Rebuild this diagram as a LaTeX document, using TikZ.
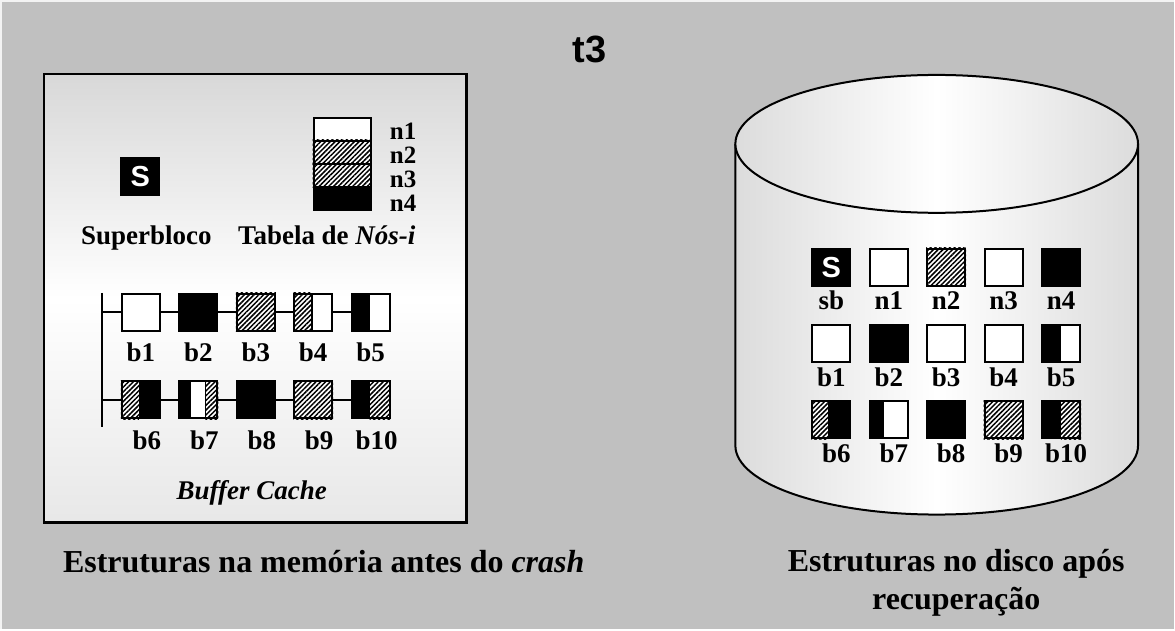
\documentclass[tikz,border=0pt]{standalone}
\usepackage{fontspec}
\setmainfont{Liberation Serif}
\newfontfamily\headfont{Liberation Sans}
\usetikzlibrary{patterns.meta,positioning}

\definecolor{bggrey}{HTML}{C0C0C0}
\definecolor{boxgrey}{HTML}{D8D8D8}
\definecolor{cylgrey}{HTML}{DCDCDC}

\newcommand{\lblfont}{\fontsize{27}{30}\selectfont\bfseries}
\newcommand{\capfont}{\fontsize{32}{38}\selectfont\bfseries}
\newcommand{\sbfont}{\headfont\fontsize{29}{29}\selectfont\bfseries}

\tikzset{
  blk/.style={draw, line width=2pt, fill=white, minimum width=38pt, minimum height=37pt, inner sep=0pt},
  sbblk/.style={fill=black, text=white, font=\sbfont, minimum width=40pt, minimum height=39pt, inner sep=0pt},
  inorow/.style={draw, line width=2pt, fill=white, minimum width=57pt, minimum height=23pt, inner sep=0pt},
  hatch/.style={pattern={Lines[angle=45,distance=3.4pt,line width=1.5pt]}},
  lbl/.style={font=\lblfont, inner sep=0pt, anchor=base},
  wire/.style={line width=2pt},
}

\begin{document}
\begin{tikzpicture}[x=1pt,y=-1pt]
		% background
		\fill[bggrey] (0,0) rectangle (1175,630);
		\draw[white!80!bggrey, line width=2pt] (1,630) -- (1,1) -- (1175,1);
		\node[font=\headfont\fontsize{38}{38}\selectfont\bfseries, inner sep=0pt, anchor=base] (title) at (590,63) {t3};
		
		% memory (left part)
		\draw[line width=2.5pt, top color=boxgrey, bottom color=boxgrey!60!white, middle color=white] (44,74) rectangle (467,523);
		\node[sbblk] (sup) at (140.5,176.5) {S};
		\node[lbl] (suplbl) at (146.5,245) {Superbloco};
		\foreach \i/\y/\b in {1/129.5/140,2/152.5/164,3/175.5/188,4/198.5/212}{
			\node[inorow] (t\i) at (342.5,\y) {};
			\node[lbl, anchor=base west, font=\fontsize{25}{25}\selectfont\bfseries] (tl\i) at (390,\b) {n\i};
		}
		\fill[hatch] (t2.south west) rectangle (t2.north east);
		\fill[hatch] (t3.south west) rectangle (t3.north east);
		\fill (t4.south west) rectangle (t4.north east);
		\node[lbl] (tablbl) at (327,245) {Tabela de \textit{Nós-i}};
		
		% buffer cache
		\coordinate (bustop) at (102,293);
		\coordinate (busbot) at (102,427);
		\coordinate (bus1) at (102,312.5);
		\coordinate (bus2) at (102,400);
		\draw[wire, line width=2.5pt] (bustop) -- (busbot);
		\foreach \i/\x in {1/141,2/198.5,3/256,4/313.5,5/371}{
			\node[blk] (c\i) at (\x,312.5) {};
			\node[lbl] (cl\i) at (\x,362) {b\i};
		}
		\foreach \i/\x in {6/141,7/198.5,8/256,9/313.5,10/371}{
			\node[blk] (c\i) at (\x,400) {};
			\node[lbl] (cl\i) at (\x+6,450) {b\i};
		}
		\draw[wire] (bus1) -- (c1) -- (c2) -- (c3) -- (c4) -- (c5);
		\draw[wire] (bus2) -- (c6) -- (c7) -- (c8) -- (c9) -- (c10);
		\fill (c2.south west) rectangle (c2.north east);
		\fill[hatch] (c3.south west) rectangle (c3.north east);
		\fill[hatch] (c4.south west) rectangle ([xshift=19pt]c4.north west);
		\draw[line width=1.5pt] ([xshift=19pt]c4.south west) -- ([xshift=19pt]c4.north west);
		\fill (c5.south west) rectangle ([xshift=19pt]c5.north west);
		\fill[hatch] (c6.south west) rectangle ([xshift=18pt]c6.north west);
		\fill (c6.south east) rectangle ([xshift=18pt]c6.north west);
		\fill (c7.south west) rectangle ([xshift=13pt]c7.north west);
		\fill[hatch] ([xshift=-13pt]c7.south east) rectangle (c7.north east);
		\draw[line width=1.5pt] ([xshift=-13pt]c7.south east) -- ([xshift=-13pt]c7.north east);
		\fill (c8.south west) rectangle (c8.north east);
		\fill[hatch] (c9.south west) rectangle (c9.north east);
		\fill (c10.south west) rectangle ([xshift=19pt]c10.north west);
		\fill[hatch] (c10.south east) rectangle ([xshift=19pt]c10.north west);
		\node[lbl, font=\lblfont\itshape] (cachelbl) at (252,500) {Buffer Cache};
		
		\node[lbl, font=\capfont] (memcap) at (324,573) {Estruturas na memória antes do \textit{crash}};
		
		% disk (right part)
		\path[left color=cylgrey, right color=cylgrey, middle color=white] (736,144) -- (736,446) arc[start angle=180, end angle=360, x radius=201.5pt, y radius=69pt] -- (1139,144) -- cycle;
		\draw[line width=2pt] (736,144) -- (736,446) arc[start angle=180, end angle=360, x radius=201.5pt, y radius=69pt] -- (1139,144);
		\draw[line width=2pt, left color=cylgrey, right color=cylgrey, middle color=white] (937.5,144) ellipse[x radius=201.5pt, y radius=69pt];
		
		\node[sbblk] (dsb) at (832,267.5) {S};
		\node[lbl] (dsblbl) at (832,310) {sb};
		\foreach \i/\x in {1/889.5,2/947,3/1004.5,4/1062}{
			\node[blk] (dn\i) at (\x,267.5) {};
			\node[lbl] (dnl\i) at (\x,310) {n\i};
		}
		\foreach \i/\x in {1/832,2/889.5,3/947,4/1004.5,5/1062}{
			\node[blk] (db\i) at (\x,344) {};
			\node[lbl] (dbl\i) at (\x,387) {b\i};
		}
		\foreach \i/\x in {6/832,7/889.5,8/947,9/1004.5,10/1062}{
			\node[blk] (db\i) at (\x,420) {};
			\node[lbl] (dbl\i) at (\x+5,463) {b\i};
		}
		\fill[hatch] (dn2.south west) rectangle (dn2.north east);
		\fill (dn4.south west) rectangle (dn4.north east);
		\fill (db2.south west) rectangle (db2.north east);
		\fill (db5.south west) rectangle ([xshift=20pt]db5.north west);
		\fill[hatch] (db6.south west) rectangle ([xshift=17pt]db6.north west);
		\fill (db6.south east) rectangle ([xshift=17pt]db6.north west);
		\fill (db7.south west) rectangle ([xshift=15pt]db7.north west);
		\fill (db8.south west) rectangle (db8.north east);
		\fill[hatch] (db9.south west) rectangle (db9.north east);
		\fill (db10.south west) rectangle ([xshift=20pt]db10.north west);
		\fill[hatch] (db10.south east) rectangle ([xshift=20pt]db10.north west);
		
		\node[font=\capfont, align=center, inner sep=0pt, anchor=base] (diskcap) at (957,610) {Estruturas no disco após\\recuperação};
\end{tikzpicture}
\end{document}
